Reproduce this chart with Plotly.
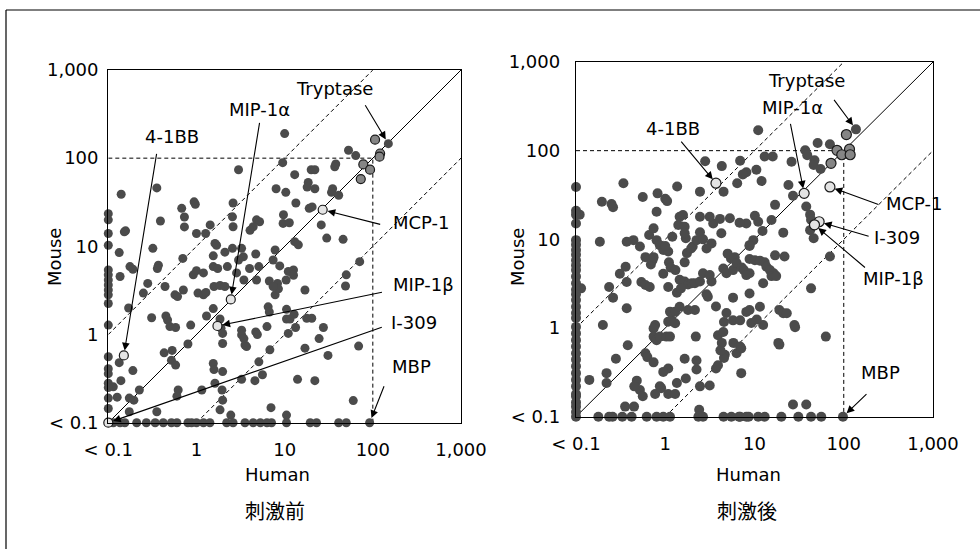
import math
import plotly.graph_objects as go

FONT = "DejaVu Sans, Liberation Sans, Arial"
CJK_FONT = "Noto Sans CJK JP"
W, H = 980, 549

TICK_VALS = [0.1, 1, 10, 100, 1000]
TICK_TEXT = ["< 0.1", "1", "10", "100", "1,000"]
FLOOR = 0.1  # "< 0.1" is drawn on the axis floor

# ---------------- 刺激前 (before stimulation): (human, mouse) ----------------
before_points = [
    (10, 190), (3.0, 74), (53, 123), (64, 107), (38, 86), (37, 80), (9.5, 89), (13, 65), (20, 74), (22, 74),
    (18.5, 53), (18, 47), (22, 45), (35, 45), (34, 41), (41, 38), (8, 45), (10.3, 41), (0.355, 46), (0.14, 39),
    (0.94, 32), (0.97, 30), (2.6, 31), (13.4, 31), (19, 27), (20.5, 28), (0.68, 27), (0.73, 21.5), (0.73, 16.6), (0.39, 19.4),
    (0.152, 14.6), (0.157, 15), (1.0, 14), (1.27, 14), (1.43, 17.5), (2.56, 21.6), (2.6, 16.7), (4.8, 20), (5.2, 19), (4.4, 16.7),
    (4.05, 15.2), (9.7, 22.8), (9.6, 18.2), (11.3, 18.5), (26, 17.5), (30, 12.4), (46, 12), (13, 11.3), (14.3, 10.4),
    (1.62, 10.8), (1.69, 10.3), (2.56, 9.5), (3.25, 9.5), (0.32, 9.5), (1.55, 7.8), (2.1, 8.6), (3.4, 7.6), (4.7, 8.2), (3.0, 7.0),
    (2.24, 5.9), (1.55, 5.9), (1.74, 5.6), (4.0, 5.6), (5.1, 5.9), (7.8, 9.1), (7.4, 7.0), (8.8, 6.0), (11, 5.2), (12.6, 5.4),
    (10.4, 4.15), (12.6, 4.7), (0.133, 8.5), (0.136, 4.55), (0.176, 5.9), (0.19, 5.5), (0.28, 3.8), (0.37, 6.1), (0.36, 5.6), (0.7, 7.3),
    (0.92, 4.75), (1.0, 5.3), (1.2, 5.0), (71, 6.7), (50, 4.75), (49, 3.55), (0.44, 3.5), (0.71, 3.2), (1.04, 2.95), (1.2, 2.82),
    (1.28, 3.0), (0.57, 2.82), (0.61, 2.7), (1.58, 3.5), (1.85, 3.6), (2.1, 3.5), (2.85, 5.0), (3.45, 4.15), (4.8, 4.15), (6.7, 4.05),
    (7.8, 2.82), (8.3, 3.8), (8.5, 3.3), (7.4, 3.5), (0.25, 2.95), (0.17, 2.0), (17, 3.2), (1.55, 1.97), (6.5, 2.06), (6.7, 1.8),
    (10.5, 1.93), (12.8, 1.7), (17.8, 1.53), (20.3, 1.53), (0.31, 1.55), (0.45, 1.62), (0.47, 1.46), (0.5, 1.23), (0.58, 1.2), (0.86, 1.28),
    (1.3, 1.62), (1.85, 1.5), (1.9, 1.18), (1.98, 1.03), (3.25, 1.12), (3.25, 0.99), (3.45, 0.9), (4.7, 1.07), (4.9, 1.0), (6.3, 1.23),
    (10.5, 1.5), (11.5, 1.5), (13.3, 1.2), (11, 1.03), (27.5, 1.2), (24.6, 0.9), (69, 0.74), (31, 0.58), (1.98, 0.79), (3.55, 0.76),
    (3.7, 0.73), (6.8, 0.67), (0.8, 0.78), (0.43, 0.62), (0.53, 0.66), (0.52, 0.51), (0.133, 0.48), (0.19, 0.39), (0.58, 0.45), (1.55, 0.47),
    (1.58, 0.4), (1.98, 0.38), (3.25, 0.31), (4.6, 0.3), (5.6, 0.35), (5.1, 0.49), (17, 0.7), (14, 0.31), (22, 0.3), (0.139, 0.3),
    (0.225, 0.235), (0.114, 0.255), (0.126, 0.195), (0.173, 0.19), (0.195, 0.18), (0.62, 0.235), (0.6, 0.2), (1.15, 0.235), (1.62, 0.28), (1.95, 0.235),
    (1.98, 0.18), (1.85, 0.14), (7.0, 0.148), (60, 0.178), (0.173, 0.133), (0.355, 0.133), (2.45, 0.122), (10.5, 0.122),
]
# human < 0.1 : mouse values
before_mouse_only = [23.5, 20, 14, 10.3, 5.4, 4.75, 4.15, 3.65, 3.2, 2.82, 2.25, 1.28, 0.56, 0.41, 0.36, 0.28, 0.25, 0.19, 0.145]
# mouse < 0.1 : human values
before_human_only = [0.114, 0.136, 0.154, 0.21, 0.27, 0.34, 0.42, 0.52, 0.6, 0.8, 0.88, 1.0, 1.2, 1.42, 2.2, 2.6, 3.55,
                     4.4, 5.3, 6.3, 7.1, 10.5, 19.5, 23, 41, 50]
# tryptase-group points (grey)
before_grey = [(106, 162), (121, 113), (119, 104), (78, 85), (93, 74), (73, 58)]
# labelled molecules
before_label_names = ["Tryptase", "MIP-1α", "4-1BB", "MCP-1", "MIP-1β", "I-309", "MBP"]
before_label_human = [150, 2.45, 0.15, 27, 1.73, FLOOR, 92]
before_label_mouse = [146, 2.5, 0.58, 26, 1.25, FLOOR, FLOOR]
before_label_fill = ["dark", "light", "light", "light", "light", "light", "dark"]

# ---------------- 刺激後 (after stimulation): (human, mouse) ----------------
after_points = [
    (11, 170), (51, 122), (70, 118), (37, 101), (39, 89), (47, 78), (46, 69), (55, 62), (13, 86), (16, 86),
    (26, 75), (6.9, 77), (2.8, 76), (4.3, 67), (8.1, 57), (7.4, 54), (10.5, 61), (12, 45.5), (6.4, 43), (2.45, 34.5),
    (4.5, 34.5), (24, 41), (27, 31), (17, 24.5), (38, 23.5), (42, 19), (43, 16.6), (42, 12.7), (46, 10.3), (21, 11.9),
    (10.1, 18.4), (11, 15.8), (8.1, 15.1), (9.7, 9.8), (8.8, 8.6), (0.34, 43), (0.195, 26.5), (0.25, 25), (0.26, 23), (0.56, 30),
    (0.82, 33), (1.0, 28.7), (1.05, 27), (1.36, 39.5), (0.8, 20.5), (5.3, 17.3), (6.8, 15.4), (3.45, 15.1), (3.15, 18), (2.45, 18),
    (1.45, 18), (1.58, 18.8), (1.4, 14.5), (1.65, 13.9), (1.7, 10.3), (1.2, 10.7), (4.25, 11.7), (0.66, 11.2), (0.8, 9.8), (0.87, 8.6),
    (0.52, 8.3), (0.37, 9.4), (0.44, 9.8), (0.185, 9.4), (0.114, 2.8), (0.11, 19), (0.6, 6.3), (0.69, 5.2), (0.95, 7.6), (1.08, 7.3),
    (0.31, 4.1), (0.37, 3.3), (0.235, 2.9), (0.26, 2.2), (0.54, 3.3), (0.6, 3.05), (0.67, 2.9), (1.08, 2.9), (1.35, 2.5), (1.45, 3.5),
    (1.65, 3.35), (1.8, 3.1), (1.98, 3.2), (2.15, 3.2), (2.45, 3.35), (2.9, 2.4), (3.0, 2.25), (3.3, 3.35), (4.47, 4.7), (4.85, 4.15),
    (5.75, 4.5), (5.45, 6.1), (8.8, 4.15), (0.37, 1.67), (0.2, 1.08), (0.77, 1.08), (0.74, 0.99), (1.08, 1.18),
    (1.17, 1.23), (1.29, 1.13), (1.13, 1.53), (1.29, 1.53), (1.45, 1.74), (1.8, 1.6), (2.15, 1.6), (0.74, 0.8), (0.8, 0.73), (0.87, 0.8),
    (1.03, 0.8), (1.13, 0.8), (0.38, 0.64), (0.6, 0.52), (0.63, 0.47), (0.28, 0.45), (0.22, 0.31), (0.141, 0.26), (0.48, 0.255), (0.52, 0.2),
    (0.56, 0.17), (0.77, 0.18), (0.87, 0.22), (0.9, 0.21), (1.08, 0.18), (1.29, 0.18), (1.35, 0.24), (1.65, 0.45), (2.2, 0.8), (1.7, 0.27),
    (2.24, 0.34), (3.15, 0.225), (3.7, 0.35), (3.9, 0.38), (4.65, 0.5), (4.55, 0.46), (5.8, 0.68), (6.3, 0.52), (7.1, 0.59), (7.1, 0.31),
    (3.9, 0.83), (4.47, 0.9), (4.55, 1.17), (5.75, 1.22), (6.9, 1.22), (9.2, 1.14), (12.5, 1.08), (8.1, 1.52), (8.8, 1.6), (11.5, 1.74),
    (5.75, 2.2), (8.8, 2.45), (12.5, 3.2), (19, 1.6), (21, 1.47), (23, 1.47), (28, 1.08), (28.5, 1.02), (43, 2.8), (70, 6.4),
    (63, 0.8), (18.5, 0.68), (19, 0.65), (6.9, 0.62), (27, 0.137), (38, 0.137), (8.8, 6.0), (10.1, 5.8), (11.5, 5.75), (13, 5.5),
    (13.6, 4.9), (14.9, 4.5), (16.4, 4.15), (17, 6.6), (21.7, 6.4), (8.8, 8.4), (0.355, 0.13), (0.447, 0.13), (0.45, 0.22), (2.4, 0.12),
    (4.1, 17), (15.5, 16.5), (12.3, 12.4), (0.74, 13.3), (1.0, 8.4), (1.65, 11.7), (2.03, 8.3), (2.24, 9.8), (2.45, 12), (2.65, 10),
    (3.3, 9), (2.9, 7.9), (1.75, 7.0), (1.95, 7.9), (1.1, 5.5), (1.15, 4.8), (1.65, 5.5), (1.3, 4.5), (0.95, 4.1), (0.72, 5.8),
    (0.36, 4.9), (0.74, 6.3), (1.5, 2.8), (2.65, 4.15), (3.15, 3.95), (5.0, 6.9), (6.0, 6.3), (6.3, 5.4),
    (15.5, 3.85), (17.5, 3.85), (7.2, 4.8), (7.6, 4.5), (8.1, 3.95), (0.74, 0.41), (3.7, 1.75), (4.85, 1.48), (10.6, 1.25), (4.3, 0.68),
    (4.15, 0.56), (2.24, 0.43), (1.08, 0.35), (0.95, 0.32), (0.22, 0.24), (2.45, 0.22),
]
after_mouse_only = [39, 21, 19, 15.1, 9.8, 8.7, 7.6, 6.7, 5.8, 5.1, 4.5, 3.8, 3.2, 2.7, 2.4, 2.07, 1.74, 1.48, 1.3, 1.03,
                    0.87, 0.73, 0.62, 0.52, 0.44, 0.37, 0.31, 0.26, 0.22, 0.18, 0.17, 0.145, 0.13, 0.113, 0.1]
after_human_only = [0.178, 0.235, 0.257, 0.33, 0.42, 0.62, 0.8, 0.95, 1.13, 2.35, 2.65, 4.5, 5.5, 6.7, 6.9, 8.1, 8.6,
                    11, 13, 20, 31, 43, 56]
after_grey = [(107, 152), (84, 101), (116, 104), (95, 90), (118, 90), (72, 72)]
after_label_names = ["Tryptase", "MIP-1α", "4-1BB", "MCP-1", "I-309", "MIP-1β", "MBP"]
after_label_human = [137, 36, 3.7, 70, 53, 47, 98]
after_label_mouse = [174, 33, 43, 39, 15.8, 14.6, FLOOR]
after_label_fill = ["dark", "light", "light", "light", "light", "light", "dark"]

# ---------------- styling / layout (pixel-based positions) ----------------
DARK = "#4b4b4b"
GREY = "#858585"
LIGHT = "#e4e4e4"

panels = [
    dict(xa="x", ya="y", dom_x=(108.3, 461), dom_y=(70, 422.7), size=9,
         pts=before_points, mo=before_mouse_only, ho=before_human_only, grey=before_grey,
         names=before_label_names, lh=before_label_human, lm=before_label_mouse, lf=before_label_fill,
         arrows={"Tryptase": (-24, -40), "MIP-1α": (29, -178), "4-1BB": (33, -203), "MCP-1": (59, 15),
                 "MIP-1β": (166, -34), "I-309": (275, -96), "MBP": (15, -38)},
         labels={"Tryptase": (334, 88), "MIP-1α": (259, 110), "4-1BB": (172, 136), "MCP-1": (421, 222),
                 "MIP-1β": (423, 284), "I-309": (414, 322), "MBP": (411, 366)},
         mouse_pos=(55, 257), human_pos=(277, 474), title_pos=(275, 510), title="刺激前", tick_y_standoff=5),
    dict(xa="x2", ya="y2", dom_x=(576, 933), dom_y=(62, 416.7), size=10,
         pts=after_points, mo=after_mouse_only, ho=after_human_only, grey=after_grey,
         names=after_label_names, lh=after_label_human, lm=after_label_mouse, lf=after_label_fill,
         arrows={"Tryptase": (-23, -31), "MIP-1α": (-14, -71), "4-1BB": (-36, -43), "MCP-1": (50, 18),
                 "I-309": (51, 15), "MIP-1β": (52, 44), "MBP": (25, -24)},
         labels={"Tryptase": (806, 80), "MIP-1α": (792, 107), "4-1BB": (673, 128), "MCP-1": (914, 203),
                 "I-309": (897, 237), "MIP-1β": (893, 278), "MBP": (880, 372)},
         mouse_pos=(518, 257), human_pos=(748, 474), title_pos=(747, 510), title="刺激後", tick_y_standoff=11),
]

fig = go.Figure()
annotations = []
shapes = []


def line_trace(xs, ys, xa, ya, dash):
    return go.Scatter(x=xs, y=ys, mode="lines", xaxis=xa, yaxis=ya, hoverinfo="skip",
                      line=dict(color="black", width=1, dash=dash), showlegend=False, cliponaxis=True)


for p in panels:
    xa, ya = p["xa"], p["ya"]
    # reference lines
    fig.add_trace(line_trace([0.1, 1000], [0.1, 1000], xa, ya, "solid"))
    fig.add_trace(line_trace([0.1, 100], [1, 1000], xa, ya, "4px,3px"))
    fig.add_trace(line_trace([1, 1000], [0.1, 100], xa, ya, "4px,3px"))
    fig.add_trace(line_trace([0.1, 100, 100], [100, 100, 0.1], xa, ya, "4px,3px"))

    hx = [h for h, m in p["pts"]] + [FLOOR] * len(p["mo"]) + p["ho"]
    my = [m for h, m in p["pts"]] + p["mo"] + [FLOOR] * len(p["ho"])
    fig.add_trace(go.Scatter(x=hx, y=my, mode="markers", xaxis=xa, yaxis=ya, showlegend=False,
                             cliponaxis=False,
                             marker=dict(size=p["size"], color=DARK, line=dict(width=0))))
    fig.add_trace(go.Scatter(x=[h for h, m in p["grey"]], y=[m for h, m in p["grey"]], mode="markers",
                             xaxis=xa, yaxis=ya, showlegend=False, cliponaxis=False,
                             marker=dict(size=p["size"], color=GREY, line=dict(width=1.2, color="#1a1a1a"))))
    for fill in ("dark", "light"):
        xs = [h for h, f in zip(p["lh"], p["lf"]) if f == fill]
        ys = [m for m, f in zip(p["lm"], p["lf"]) if f == fill]
        if fill == "dark":
            mk = dict(size=p["size"], color=DARK, line=dict(width=0))
        else:
            mk = dict(size=p["size"], color=LIGHT, line=dict(width=1.2, color="#1a1a1a"))
        fig.add_trace(go.Scatter(x=xs, y=ys, mode="markers", xaxis=xa, yaxis=ya, showlegend=False,
                                 cliponaxis=False, marker=mk))

    # arrows anchored at the labelled data points
    for name, h, m in zip(p["names"], p["lh"], p["lm"]):
        dx, dy = p["arrows"][name]
        annotations.append(dict(x=math.log10(h), y=math.log10(m), xref=xa, yref=ya, text="",
                                showarrow=True, ax=dx, ay=dy, arrowhead=2, arrowsize=1.4,
                                arrowwidth=1.1, arrowcolor="black", standoff=5))
        lx, ly = p["labels"][name]
        annotations.append(dict(x=lx / W, y=1 - ly / H, xref="paper", yref="paper", text=name,
                                showarrow=False, xanchor="center", yanchor="middle",
                                font=dict(size=18, family=FONT, color="black")))

    annotations.append(dict(x=p["mouse_pos"][0] / W, y=1 - p["mouse_pos"][1] / H, xref="paper", yref="paper",
                            text="Mouse", textangle=-90, showarrow=False, xanchor="center", yanchor="middle",
                            font=dict(size=18, family=FONT, color="black")))
    annotations.append(dict(x=p["human_pos"][0] / W, y=1 - p["human_pos"][1] / H, xref="paper", yref="paper",
                            text="Human", showarrow=False, xanchor="center", yanchor="middle",
                            font=dict(size=18, family=FONT, color="black")))
    annotations.append(dict(x=p["title_pos"][0] / W, y=1 - p["title_pos"][1] / H, xref="paper", yref="paper",
                            text=p["title"], showarrow=False, xanchor="center", yanchor="middle",
                            font=dict(size=20, family=CJK_FONT, color="black")))

    axis_common = dict(type="log", range=[-1, 3], tickvals=TICK_VALS, ticktext=TICK_TEXT,
                       showgrid=False, zeroline=False, showline=True, linecolor="black", linewidth=1.2,
                       mirror=True, ticks="", automargin=False,
                       tickfont=dict(size=18, family=FONT, color="black"))
    xkey = "xaxis" if xa == "x" else "xaxis2"
    ykey = "yaxis" if ya == "y" else "yaxis2"
    fig.update_layout(**{
        xkey: dict(axis_common, domain=[p["dom_x"][0] / W, p["dom_x"][1] / W], anchor=ya,
                   ticklabelstandoff=10),
        ykey: dict(axis_common, domain=[1 - p["dom_y"][1] / H, 1 - p["dom_y"][0] / H], anchor=xa,
                   ticklabelstandoff=p["tick_y_standoff"]),
    })

# outer frame (top and left edges visible in the picture)
shapes.append(dict(type="line", xref="paper", yref="paper", x0=6 / W, x1=1.0, y0=1 - 10 / H, y1=1 - 10 / H,
                   line=dict(color="black", width=1.2)))
shapes.append(dict(type="line", xref="paper", yref="paper", x0=6 / W, x1=6 / W, y0=1 - 10 / H, y1=0,
                   line=dict(color="black", width=1.2)))

fig.update_layout(width=W, height=H, margin=dict(l=0, r=0, t=0, b=0, autoexpand=False),
                  plot_bgcolor="white", paper_bgcolor="white", showlegend=False,
                  annotations=annotations, shapes=shapes,
                  font=dict(family=FONT, size=18, color="black"))

fig.write_html("out.html", config={"displayModeBar": False, "staticPlot": True},
               post_script="document.body.style.margin='0px';document.body.style.overflow='hidden';")
